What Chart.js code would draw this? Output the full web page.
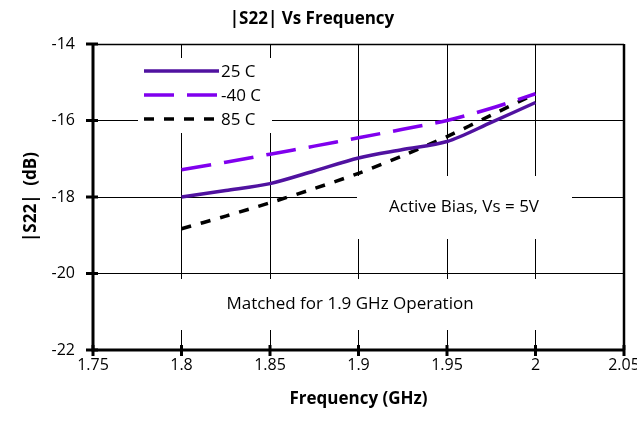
<!DOCTYPE html>
<html><head><meta charset="utf-8">
<script src="https://cdn.jsdelivr.net/npm/chart.js@4"></script>
<style>html,body{margin:0;padding:0;background:#fff}#wrap{width:637px;height:422px}</style>
</head><body><div id="wrap"><canvas id="c" width="637" height="422"></canvas></div>
<script>
const freqs = [1.8, 1.825, 1.85, 1.875, 1.9, 1.925, 1.95, 1.975, 2.0];
const s22_25C = [-18.0, -17.83, -17.65, -17.32, -16.98, -16.76, -16.55, -16.05, -15.53];
const s22_m40C = [-17.29, -17.09, -16.88, -16.67, -16.45, -16.23, -16.0, -15.68, -15.3];
const s22_85C = [-18.83, -18.5, -18.15, -17.78, -17.38, -16.92, -16.42, -15.86, -15.3];
const xTicks = [1.75, 1.8, 1.85, 1.9, 1.95, 2.0, 2.05];
const yTicks = [-22, -20, -18, -16, -14];
const seriesNames = ['25 C', '-40 C', '85 C'];
const FONT = '"Open Sans", "Noto Sans", sans-serif';

function pts(ys){ return freqs.map((f,i)=>({x:f,y:ys[i]})); }

const overlay = {
  id:'overlay',
  beforeDatasetsDraw(chart){
    const {ctx, chartArea:a} = chart;
    ctx.save();
    ctx.fillStyle = '#fff';
    ctx.fillRect(138, 58, 134, 75);      // legend box
    ctx.fillRect(357, 176, 215, 63);     // active bias box
    ctx.fillRect(a.left+4, 279, a.right-a.left-8, 51); // matched box
    ctx.restore();
  },
  afterDatasetsDraw(chart){
    const {ctx, chartArea:a, scales:{x,y}} = chart;
    ctx.save();
    ctx.strokeStyle='#000';
    ctx.lineWidth=1.5;
    ctx.beginPath(); ctx.moveTo(a.left, a.top+0.5); ctx.lineTo(a.right, a.top+0.5); ctx.stroke();
    ctx.lineWidth=2.5;
    ctx.beginPath(); ctx.moveTo(a.right, a.top); ctx.lineTo(a.right, a.bottom); ctx.stroke();
    ctx.lineWidth=3;
    ctx.beginPath(); ctx.moveTo(a.left, a.top-1); ctx.lineTo(a.left, a.bottom); ctx.lineTo(a.right+1, a.bottom); ctx.stroke();
    yTicks.forEach(v=>{const py=y.getPixelForValue(v); ctx.beginPath(); ctx.moveTo(a.left-7,py); ctx.lineTo(a.left+5,py); ctx.stroke();});
    xTicks.forEach(v=>{const px=x.getPixelForValue(v); ctx.beginPath(); ctx.moveTo(px,a.bottom-5); ctx.lineTo(px,a.bottom+6); ctx.stroke();});
    // legend
    const ds = chart.data.datasets;
    const rows=[71,95,119];
    ds.forEach((d,i)=>{
      ctx.strokeStyle=d.borderColor; ctx.lineWidth=d.borderWidth;
      ctx.setLineDash(d.borderDash||[]);
      ctx.beginPath(); ctx.moveTo(144, rows[i]); ctx.lineTo(219, rows[i]); ctx.stroke();
      ctx.setLineDash([]);
      ctx.fillStyle='#000'; ctx.font='17px '+FONT; ctx.textBaseline='middle'; ctx.textAlign='left';
      ctx.fillText(d.label, 221, rows[i]+1);
    });
    ctx.fillStyle='#000'; ctx.font='17px '+FONT; ctx.textAlign='center'; ctx.textBaseline='middle';
    ctx.fillText('Active Bias, Vs = 5V', 464, 207);
    ctx.fillText('Matched for 1.9 GHz Operation', 350, 304);
    ctx.restore();
  }
};

new Chart(document.getElementById('c'), {
  type:'line',
  data:{datasets:[
    {label:seriesNames[0], data:pts(s22_25C), borderColor:'#5012a0', borderWidth:3.5, pointRadius:0, tension:0.3, fill:false},
    {label:seriesNames[1], data:pts(s22_m40C), borderColor:'#8000ee', borderWidth:3.5, borderDash:[30,13], pointRadius:0, tension:0.3, fill:false},
    {label:seriesNames[2], data:pts(s22_85C), borderColor:'#000', borderWidth:3.5, borderDash:[10,10], pointRadius:0, tension:0.3, fill:false}
  ]},
  options:{
    responsive:false, animation:false,
    layout:{padding:{left:0,right:13,top:0,bottom:0}},
    plugins:{
      legend:{display:false}, tooltip:{enabled:false},
      title:{display:true, text:'|S22| Vs Frequency', color:'#000', font:{family:FONT, size:17, weight:'bold'}, padding:{top:9,bottom:14.6}}
    },
    scales:{
      x:{type:'linear', min:1.75, max:2.05,
        afterBuildTicks(s){ s.ticks = xTicks.map(v=>({value:v})); },
        afterFit(s){ s.height = 72; s.paddingLeft = 0; s.paddingRight = 0; },
        ticks:{color:'#000', font:{family:FONT,size:16}, padding:2, maxRotation:0, callback:v=>String(Math.round(v*100)/100)},
        grid:{color:'#000', lineWidth:1, drawTicks:true, tickLength:4},
        border:{display:false},
        title:{display:true, text:'Frequency (GHz)', color:'#000', font:{family:FONT,size:17,weight:'bold'}, padding:{top:13,bottom:13}}
      },
      y:{type:'linear', min:-22, max:-14,
        afterBuildTicks(s){ s.ticks = yTicks.map(v=>({value:v})); },
        afterFit(s){ s.width = 93; s.paddingTop = 0; s.paddingBottom = 0; },
        ticks:{color:'#000', font:{family:FONT,size:16}, padding:12},
        grid:{color:'#000', lineWidth:1, drawTicks:true, tickLength:6},
        border:{display:false},
        title:{display:true, text:'|S22|  (dB)', color:'#000', font:{family:FONT,size:17,weight:'bold'}, padding:{top:21,bottom:21}}
      }
    }
  },
  plugins:[overlay]
});
</script></body></html>
